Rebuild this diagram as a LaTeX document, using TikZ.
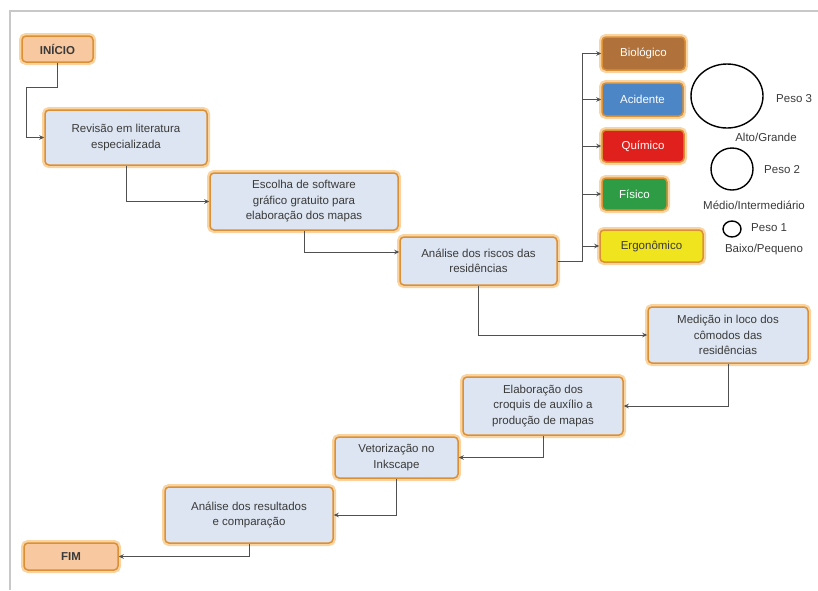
\documentclass[tikz,border=0pt]{standalone}
\usepackage{fontspec}
\setmainfont{Liberation Sans}
\usetikzlibrary{shapes.geometric,arrows.meta}
\definecolor{borda}{HTML}{DC9035}
\definecolor{brilho}{HTML}{F9D3A0}
\definecolor{azul}{HTML}{DCE5F1}
\definecolor{pessego}{HTML}{F8C9A0}
\definecolor{texto}{HTML}{3A3A3A}
\definecolor{linha}{HTML}{505050}
\definecolor{moldura}{HTML}{C8C8C8}
\definecolor{bio}{HTML}{B0723A}
\definecolor{acid}{HTML}{4C86C6}
\definecolor{quim}{HTML}{E0201C}
\definecolor{fis}{HTML}{2E9C44}
\definecolor{ergo}{HTML}{F0E41E}
\begin{document}
\begin{tikzpicture}[x=1pt,y=-1pt,>={Stealth[length=5pt,width=4.5pt]},
  font=\fontsize{11.5}{15.5}\selectfont,
  caixa/.style={draw=borda,line width=1.5pt,rounded corners=4pt,
    preaction={draw=brilho,line width=6pt},align=center,inner sep=0pt,text=texto},
  etapa/.style={caixa,fill=azul},
  extremo/.style={caixa,fill=pessego,font=\fontsize{11.5}{15.5}\selectfont\bfseries},
  risco/.style={caixa,fill=#1,text=white},
  liga/.style={->,draw=linha,line width=1pt},
  peso/.style={draw,ellipse,line width=1.4pt,inner sep=0pt},
  rotulo/.style={text=texto,inner sep=0pt}]
 \useasboundingbox (0,0) rectangle (818,590);
 \draw[moldura,line width=1.5pt] (818,11) -- (10,11) -- (10,590);
 % etapas
 \node[extremo,minimum width=71,minimum height=26] (inicio) at (57.5,49) {INÍCIO};
 \node[etapa,minimum width=162,minimum height=55] (revisao) at (126,137.5)
   {Revisão em literatura\\especializada};
 \node[etapa,minimum width=188,minimum height=57] (escolha) at (304,201.5)
   {Escolha de software\\gráfico gratuito para\\elaboração dos mapas};
 \node[etapa,minimum width=157,minimum height=48] (analise) at (478.5,261)
   {Análise dos riscos das\\residências};
 \node[etapa,minimum width=160,minimum height=56] (medicao) at (728,335)
   {Medição in loco dos\\cômodos das\\residências};
 \node[etapa,minimum width=160,minimum height=58] (croquis) at (543,406)
   {Elaboração dos\\croquis de auxílio a\\produção de mapas};
 \node[etapa,minimum width=123,minimum height=41] (vetor) at (396.5,457.5)
   {Vetorização no\\Inkscape};
 \node[etapa,minimum width=168,minimum height=56] (result) at (249,515)
   {Análise dos resultados\\e comparação};
 \node[extremo,minimum width=94,minimum height=27] (fim) at (71,556.5) {FIM};
 % riscos
 \node[risco=bio,minimum width=83,minimum height=33] (biologico) at (643.5,53.5) {Biológico};
 \node[risco=acid,minimum width=81,minimum height=33] (acidente) at (642.5,99.5) {Acidente};
 \node[risco=quim,minimum width=82,minimum height=32] (quimico) at (643,146) {Químico};
 \node[risco=fis,minimum width=65,minimum height=32] (fisico) at (634.5,194) {Físico};
 \node[risco=ergo,text=texto,minimum width=103,minimum height=32] (ergonomico) at (651.5,246) {Ergonômico};
 % pesos
 \node[peso,minimum width=72,minimum height=64] (p3) at (727,96) {};
 \node[peso,minimum width=42,minimum height=42] (p2) at (732,169) {};
 \node[peso,minimum width=18,minimum height=16] (p1) at (732,229) {};
 \node[rotulo,anchor=west] (l3) at (776,99) {Peso 3};
 \node[rotulo] (a3) at (766,137) {Alto/Grande};
 \node[rotulo,anchor=west] (l2) at (764,170) {Peso 2};
 \node[rotulo] (a2) at (754,205) {Médio/Intermediário};
 \node[rotulo,anchor=west] (l1) at (751,228) {Peso 1};
 \node[rotulo] (a1) at (764,250) {Baixo/Pequeno};
 % ligacoes
 \draw[liga] (inicio.south) -- ++(0,25) -| ([xshift=-18pt]revisao.west) -- (revisao.west);
 \draw[liga] (revisao.south) |- (escolha.west);
 \draw[liga] (escolha.south) |- ([yshift=9pt]analise.west);
 \draw[linha,line width=1pt] (analise.east) -- ++(25,0) coordinate (tronco);
 \foreach \r in {biologico,acidente,quimico,fisico,ergonomico}
   \draw[liga] (tronco) |- (\r.west);
 \draw[liga] (analise.south) |- (medicao.west);
 \draw[liga] (medicao.south) |- (croquis.east);
 \draw[liga] (croquis.south) |- (vetor.east);
 \draw[liga] (vetor.south) |- (result.east);
 \draw[liga] (result.south) |- (fim.east);
\end{tikzpicture}
\end{document}
